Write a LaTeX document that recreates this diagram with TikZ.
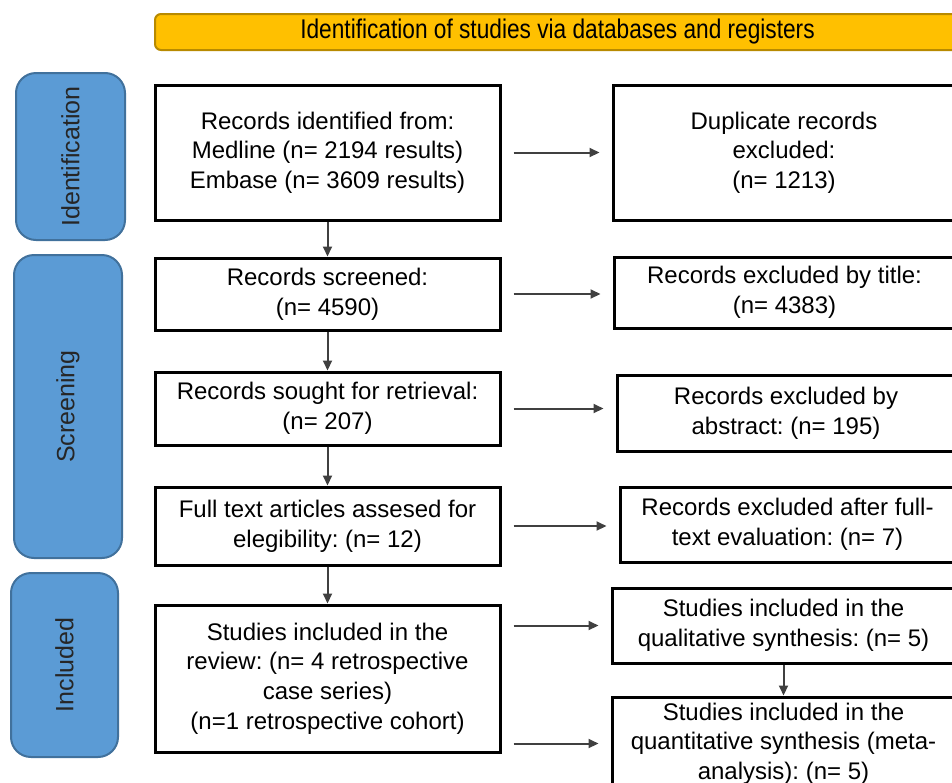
\documentclass[tikz,border=0pt]{standalone}
\usepackage{fontspec}
\setmainfont{Liberation Sans}
\usetikzlibrary{arrows.meta}
\frenchspacing
\definecolor{bannerfill}{HTML}{FFC000}
\definecolor{bannerline}{HTML}{B88A00}
\definecolor{phasefill}{HTML}{5B9BD5}
\definecolor{phaseline}{HTML}{41719C}
\begin{document}
\begin{tikzpicture}[
  x=0.5pt, y=-0.5pt,
  box/.style={rectangle, draw, line width=1.5pt, fill=white, align=center, inner sep=2pt,
    font=\fontsize{12}{14.8}\selectfont},
  phase/.style={rectangle, rounded corners=10pt, draw=phaseline, line width=1pt, fill=phasefill,
    rotate=90, inner sep=0pt, text=black!85, font=\fontsize{12.5}{15}\selectfont},
  banner/.style={rectangle, rounded corners=3pt, draw=bannerline, line width=1pt, fill=bannerfill,
    minimum width=402.5pt, minimum height=18pt, inner sep=0pt},
  arr/.style={-{Triangle[length=5pt, width=4.5pt]}, line width=1pt, black!75},
  harr/.style={arr, shorten <=6pt, shorten >=6pt},
]
  \clip (0,0) rectangle (952,782);

  % Header and phase labels
  \node[banner] (head) at (557.5, 32) {\scalebox{0.84}[1]{\fontsize{13.5}{15}\selectfont Identification of studies via databases and registers}};
  \node[phase, minimum width=83.5pt, minimum height=54.5pt] (ph1) at (70.5, 156.5) {Identification};
  \node[phase, minimum width=151.5pt, minimum height=54pt] (ph2) at (68, 406.5) {Screening};
  \node[phase, minimum width=92pt, minimum height=53.5pt] (ph3) at (64.5, 665) {Included};

  % Main column
  \node[box, minimum width=172.5pt, minimum height=67.5pt] (ident) at (327.5, 152.5)
    {Records identified from:\\Medline (n= 2194 results)\\Embase (n= 3609 results)};
  \node[box, minimum width=172.5pt, minimum height=36pt] (scr) at (327.5, 294)
    {Records screened:\\(n= 4590)};
  \node[box, minimum width=172.5pt, minimum height=36.5pt] (sought) at (327.5, 408.5)
    {Records sought for retrieval:\\(n= 207)};
  \node[box, minimum width=172.5pt, minimum height=39pt] (full) at (327.5, 526)
    {Full text articles assesed for\\elegibility: (n= 12)};
  \node[box, minimum width=172.5pt, minimum height=73.5pt] (incl) at (327.5, 678.5)
    {Studies included in the\\review: (n= 4 retrospective\\case series)\\(n=1 retrospective cohort)};

  % Exclusion column
  \node[box, minimum width=171pt, minimum height=67.5pt] (dup) at (784, 152.5)
    {Duplicate records\\excluded:\\(n= 1213)};
  \node[box, minimum width=170.5pt, minimum height=35.5pt] (extitle) at (784.5, 292.5)
    {Records excluded by title:\\(n= 4383)};
  \node[box, minimum width=169pt, minimum height=38pt] (exabs) at (786, 413)
    {Records excluded by\\abstract: (n= 195)};
  \node[box, minimum width=167.5pt, minimum height=37.5pt] (exfull) at (787.5, 524.5)
    {Records excluded after full-\\text evaluation: (n= 7)};
  \node[box, minimum width=171.5pt, minimum height=37.5pt] (qual) at (783.5, 625.5)
    {Studies included in the\\qualitative synthesis: (n= 5)};
  \node[box, minimum width=171.5pt, minimum height=46.5pt] (quant) at (783.5, 743.5)
    {Studies included in the\\quantitative synthesis (meta-\\analysis): (n= 5)};

  % Downward flow
  \draw[arr] (ident) -- (scr);
  \draw[arr] (scr) -- (sought);
  \draw[arr] (sought) -- (full);
  \draw[arr] (full) -- (incl);
  \draw[arr] (qual) -- (quant);

  % Side arrows
  \draw[harr] (ident.east) -- (ident.east -| dup.west);
  \draw[harr] (scr.east) -- (scr.east -| extitle.west);
  \draw[harr] (sought.east) -- (sought.east -| exabs.west);
  \draw[harr] (full.east) -- (full.east -| exfull.west);
  \draw[harr] (incl.east |- qual.west) -- (qual.west);
  \draw[harr] (incl.east |- quant.west) -- (quant.west);
\end{tikzpicture}
\end{document}
